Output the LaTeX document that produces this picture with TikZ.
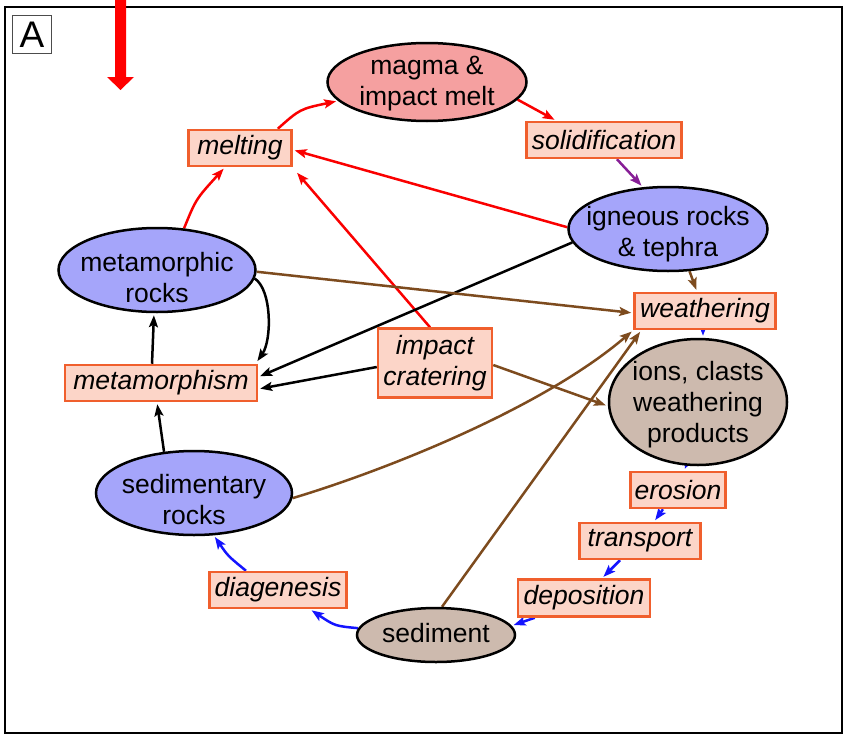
\documentclass[tikz,border=0pt]{standalone}
\usepackage{fontspec}
\setmainfont{Liberation Sans}
\usetikzlibrary{shapes.geometric,arrows.meta}
\pgfdeclarelayer{bg}
\pgfsetlayers{bg,main}
\definecolor{boxfill}{RGB}{252,213,200}
\definecolor{boxline}{RGB}{240,95,45}
\definecolor{rockblue}{RGB}{165,165,250}
\definecolor{magmafill}{RGB}{245,160,160}
\definecolor{tanfill}{RGB}{205,186,174}
\definecolor{brownline}{RGB}{125,75,30}
\definecolor{purpleline}{RGB}{135,30,150}
\definecolor{blueline}{RGB}{20,20,255}
\definecolor{redline}{RGB}{250,0,0}
\newcommand{\rocklines}[1]{\begin{tabular}[t]{@{}c@{}}#1\end{tabular}}
\begin{document}
\begin{tikzpicture}[x=1pt,y=-1pt,
 rock/.style={ellipse, draw=black, line width=2.5pt, inner sep=-50pt, font=\fontsize{26.5}{31}\selectfont},
 proc/.style={rectangle, draw=boxline, fill=boxfill, line width=2.5pt, inner sep=0pt, align=center, font=\fontsize{26.5}{31}\selectfont\itshape},
 flow/.style={line width=2.5pt, shorten >=2pt, -{Stealth[length=12pt,width=9pt,inset=2.5pt]}},
]
\useasboundingbox (0,0) rectangle (846,736);
\draw[line width=2pt] (5,7) rectangle (842,733);
\node[draw=black!70, line width=1.2pt, minimum width=39pt, minimum height=38pt, inner sep=0pt, font=\fontsize{37}{37}\selectfont] (lab) at (32,34.5) {A};
\fill[red] (115,0) -- (126,0) -- (126,77) -- (134,77) -- (120.5,90) -- (107,77) -- (115,77) -- cycle;

% rocks
\node[rock, fill=magmafill, minimum width=199pt, minimum height=78pt, text height=0pt, text depth=15pt] (M) at (427,82) {\rocklines{magma \&\\impact melt}};
\node[rock, fill=rockblue, minimum width=199pt, minimum height=84pt, text height=0pt, text depth=8pt] (I) at (668,229) {\rocklines{igneous rocks\\\& tephra}};
\node[rock, fill=tanfill, minimum width=178pt, minimum height=126pt, text height=0pt, text depth=44pt] (O) at (698,402) {\rocklines{ions, clasts\\weathering\\products}};
\node[rock, fill=tanfill, minimum width=158pt, minimum height=54pt, text height=14pt, text depth=0pt] (SD) at (436,635) {\rocklines{sediment}};
\node[rock, fill=rockblue, minimum width=196pt, minimum height=84pt, text height=0pt, text depth=0pt] (R) at (194,493) {\rocklines{sedimentary\\rocks}};
\node[rock, fill=rockblue, minimum width=197pt, minimum height=84pt, text height=3pt, text depth=0pt] (Q) at (157,270) {\rocklines{metamorphic\\rocks}};

% processes
\node[proc, minimum width=155pt, minimum height=36pt] (S) at (604,140) {solidification};
\node[proc, minimum width=103pt, minimum height=36pt] (L) at (240,148) {melting};
\node[proc, minimum width=141pt, minimum height=36pt] (W) at (705,311) {weathering};
\node[proc, minimum width=95pt, minimum height=36pt] (E) at (678,490) {erosion};
\node[proc, minimum width=121pt, minimum height=36pt] (T) at (640,541) {transport};
\node[proc, minimum width=132pt, minimum height=37pt] (D) at (584,598) {deposition};
\node[proc, minimum width=137pt, minimum height=36pt] (G) at (278,590) {diagenesis};
\node[proc, minimum width=192pt, minimum height=36pt] (P) at (161,383) {metamorphism};
\node[proc, minimum width=114pt, minimum height=69pt] (C) at (435,363) {impact\\cratering};

\begin{pgfonlayer}{bg}
% red
\draw[flow, redline] (L.27) .. controls (300,109) .. (M.192);
\draw[flow, redline] (M.-11) -- (S.158);
\draw[flow, purpleline] (S.-56) -- (I.121);
\draw[flow, redline] (I.179) -- (L.-2);
\draw[flow, redline] (C.98) -- ([shift={(3,4)}]L.south east);
\draw[flow, redline] (Q.57) .. controls (196,199) .. ([xshift=-15pt]L.south);
% black
\draw[flow] (I.188) -- ([yshift=6pt]P.east);
\draw[flow] ([yshift=-4pt]C.west) -- ([yshift=-6pt]P.east);
\draw[flow] (Q.-5) .. controls (272,290) and (272,340) .. ([shift={(-2,-1)}]P.north east);
\draw[flow] ([xshift=-9pt]P.north) -- ([xshift=-3pt]Q.south);
\draw[flow] (R.126) -- ([xshift=-4pt]P.south);
% brown
\draw[flow, brownline] (Q.-1) -- ([yshift=-2pt]W.west);
\draw[flow, brownline] (I.-63) -- ([xshift=-8pt]W.north);
\draw[flow, brownline] (R.-3) .. controls (380,472) and (540,410) .. (W.south west);
\draw[flow, brownline] (SD.78) -- ([xshift=8pt]W.south west);
\draw[flow, brownline] ([yshift=-2pt]C.east) -- ([yshift=-4pt]O.west);
% blue
\draw[flow, blueline] ([xshift=-2pt]W.south) -- ([xshift=5pt]O.north);
\draw[flow, blueline] ([xshift=-12pt]O.south) -- ([xshift=6pt]E.north);
\draw[flow, blueline] ([xshift=-15pt]E.south) -- ([xshift=14pt]T.north);
\draw[flow, blueline] ([xshift=-20pt]T.south) -- ([xshift=18pt]D.north);
\draw[flow, blueline] ([xshift=18pt]D.south west) -- (SD.7);
\draw[flow, blueline] (SD.175) .. controls (335,626) .. ([xshift=32pt]G.south);
\draw[flow, blueline] ([xshift=-32pt]G.north) .. controls (228,556) .. (R.-65);
\end{pgfonlayer}
\end{tikzpicture}
\end{document}
